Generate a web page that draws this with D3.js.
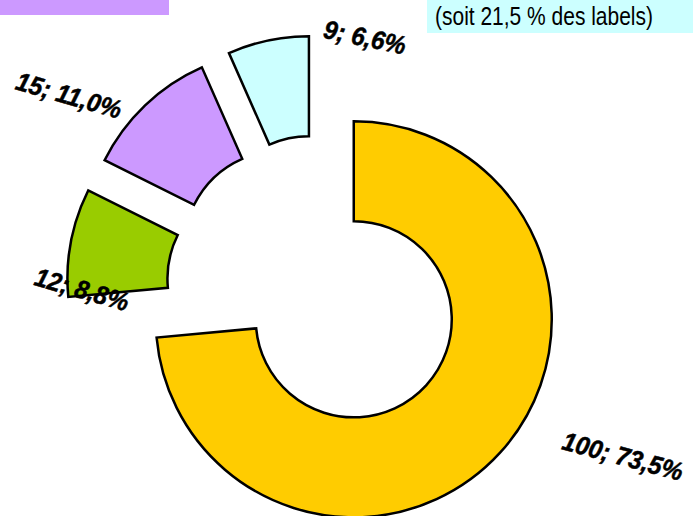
<!DOCTYPE html>
<html>
<head>
<meta charset="utf-8">
<script src="https://cdn.jsdelivr.net/npm/d3@7"></script>
<style>
  html, body { margin: 0; padding: 0; background: #fff; }
  svg { display: block; }
</style>
</head>
<body>
<svg id="chart" width="693" height="516"></svg>
<script>
// ---- data ----
const categories = ["A", "B", "C", "D"];
const values = [100, 12, 15, 9];
const percentLabels = ["73,5%", "8,8%", "11,0%", "6,6%"];
const colors = ["#FFCC00", "#99CC00", "#CC99FF", "#CCFFFF"];
const noteText = "(soit 21,5 % des labels)";

// ---- layout ----
const W = 693, H = 516;
const center = [320.5, 289];
const outerR = 198, innerR = 98;
const explode = [45, 56, 56, 56];
const labelPos = [[623, 456], [82, 289], [69, 95], [365, 37]];
const labelRotate = [15, 16, 16, 12];

const svg = d3.select("#chart");

// top-left purple bar (legend remnant)
svg.append("rect").attr("x", 0).attr("y", 0).attr("width", 169).attr("height", 15)
  .attr("fill", "#CC99FF");

// top-right cyan note box
svg.append("rect").attr("x", 427).attr("y", 0).attr("width", W - 427).attr("height", 33)
  .attr("fill", "#CCFFFF");
svg.append("text").attr("x", 435).attr("y", 25)
  .attr("font-family", "'Liberation Sans Narrow', 'Arial Narrow', 'Liberation Sans', Arial, sans-serif")
  .attr("font-size", 25)
  .attr("textLength", 218).attr("lengthAdjust", "spacingAndGlyphs")
  .attr("fill", "#000")
  .text(noteText);

const pie = d3.pie().sort(null).value(d => d)(values);
const arc = d3.arc().innerRadius(innerR).outerRadius(outerR);

const g = svg.append("g");
g.selectAll("path").data(pie).join("path")
  .attr("transform", (d, i) => {
    const m = (d.startAngle + d.endAngle) / 2;
    const tx = center[0] + explode[i] * Math.sin(m);
    const ty = center[1] - explode[i] * Math.cos(m);
    return `translate(${tx},${ty})`;
  })
  .attr("d", arc)
  .attr("fill", (d, i) => colors[i])
  .attr("stroke", "#000")
  .attr("stroke-width", 2.5)
  .attr("stroke-linejoin", "miter");

const labels = svg.selectAll("text.lbl").data(pie).join("text")
  .attr("class", "lbl")
  .attr("transform", (d, i) => `translate(${labelPos[i][0]},${labelPos[i][1]}) rotate(${labelRotate[i]})`)
  .attr("text-anchor", "middle")
  .attr("dy", "0.36em")
  .attr("font-family", "'Liberation Sans', Arial, sans-serif")
  .attr("font-weight", "bold")
  .attr("font-style", "italic")
  .attr("font-size", 26)
  .attr("fill", "#000")
  .attr("stroke", "#000")
  .attr("stroke-width", 0.5)
  .text((d, i) => `${values[i]}; ${percentLabels[i]}`);

labels.each(function () {
  const len = this.getComputedTextLength();
  d3.select(this).attr("textLength", len * 0.93).attr("lengthAdjust", "spacingAndGlyphs");
});
</script>
</body>
</html>
